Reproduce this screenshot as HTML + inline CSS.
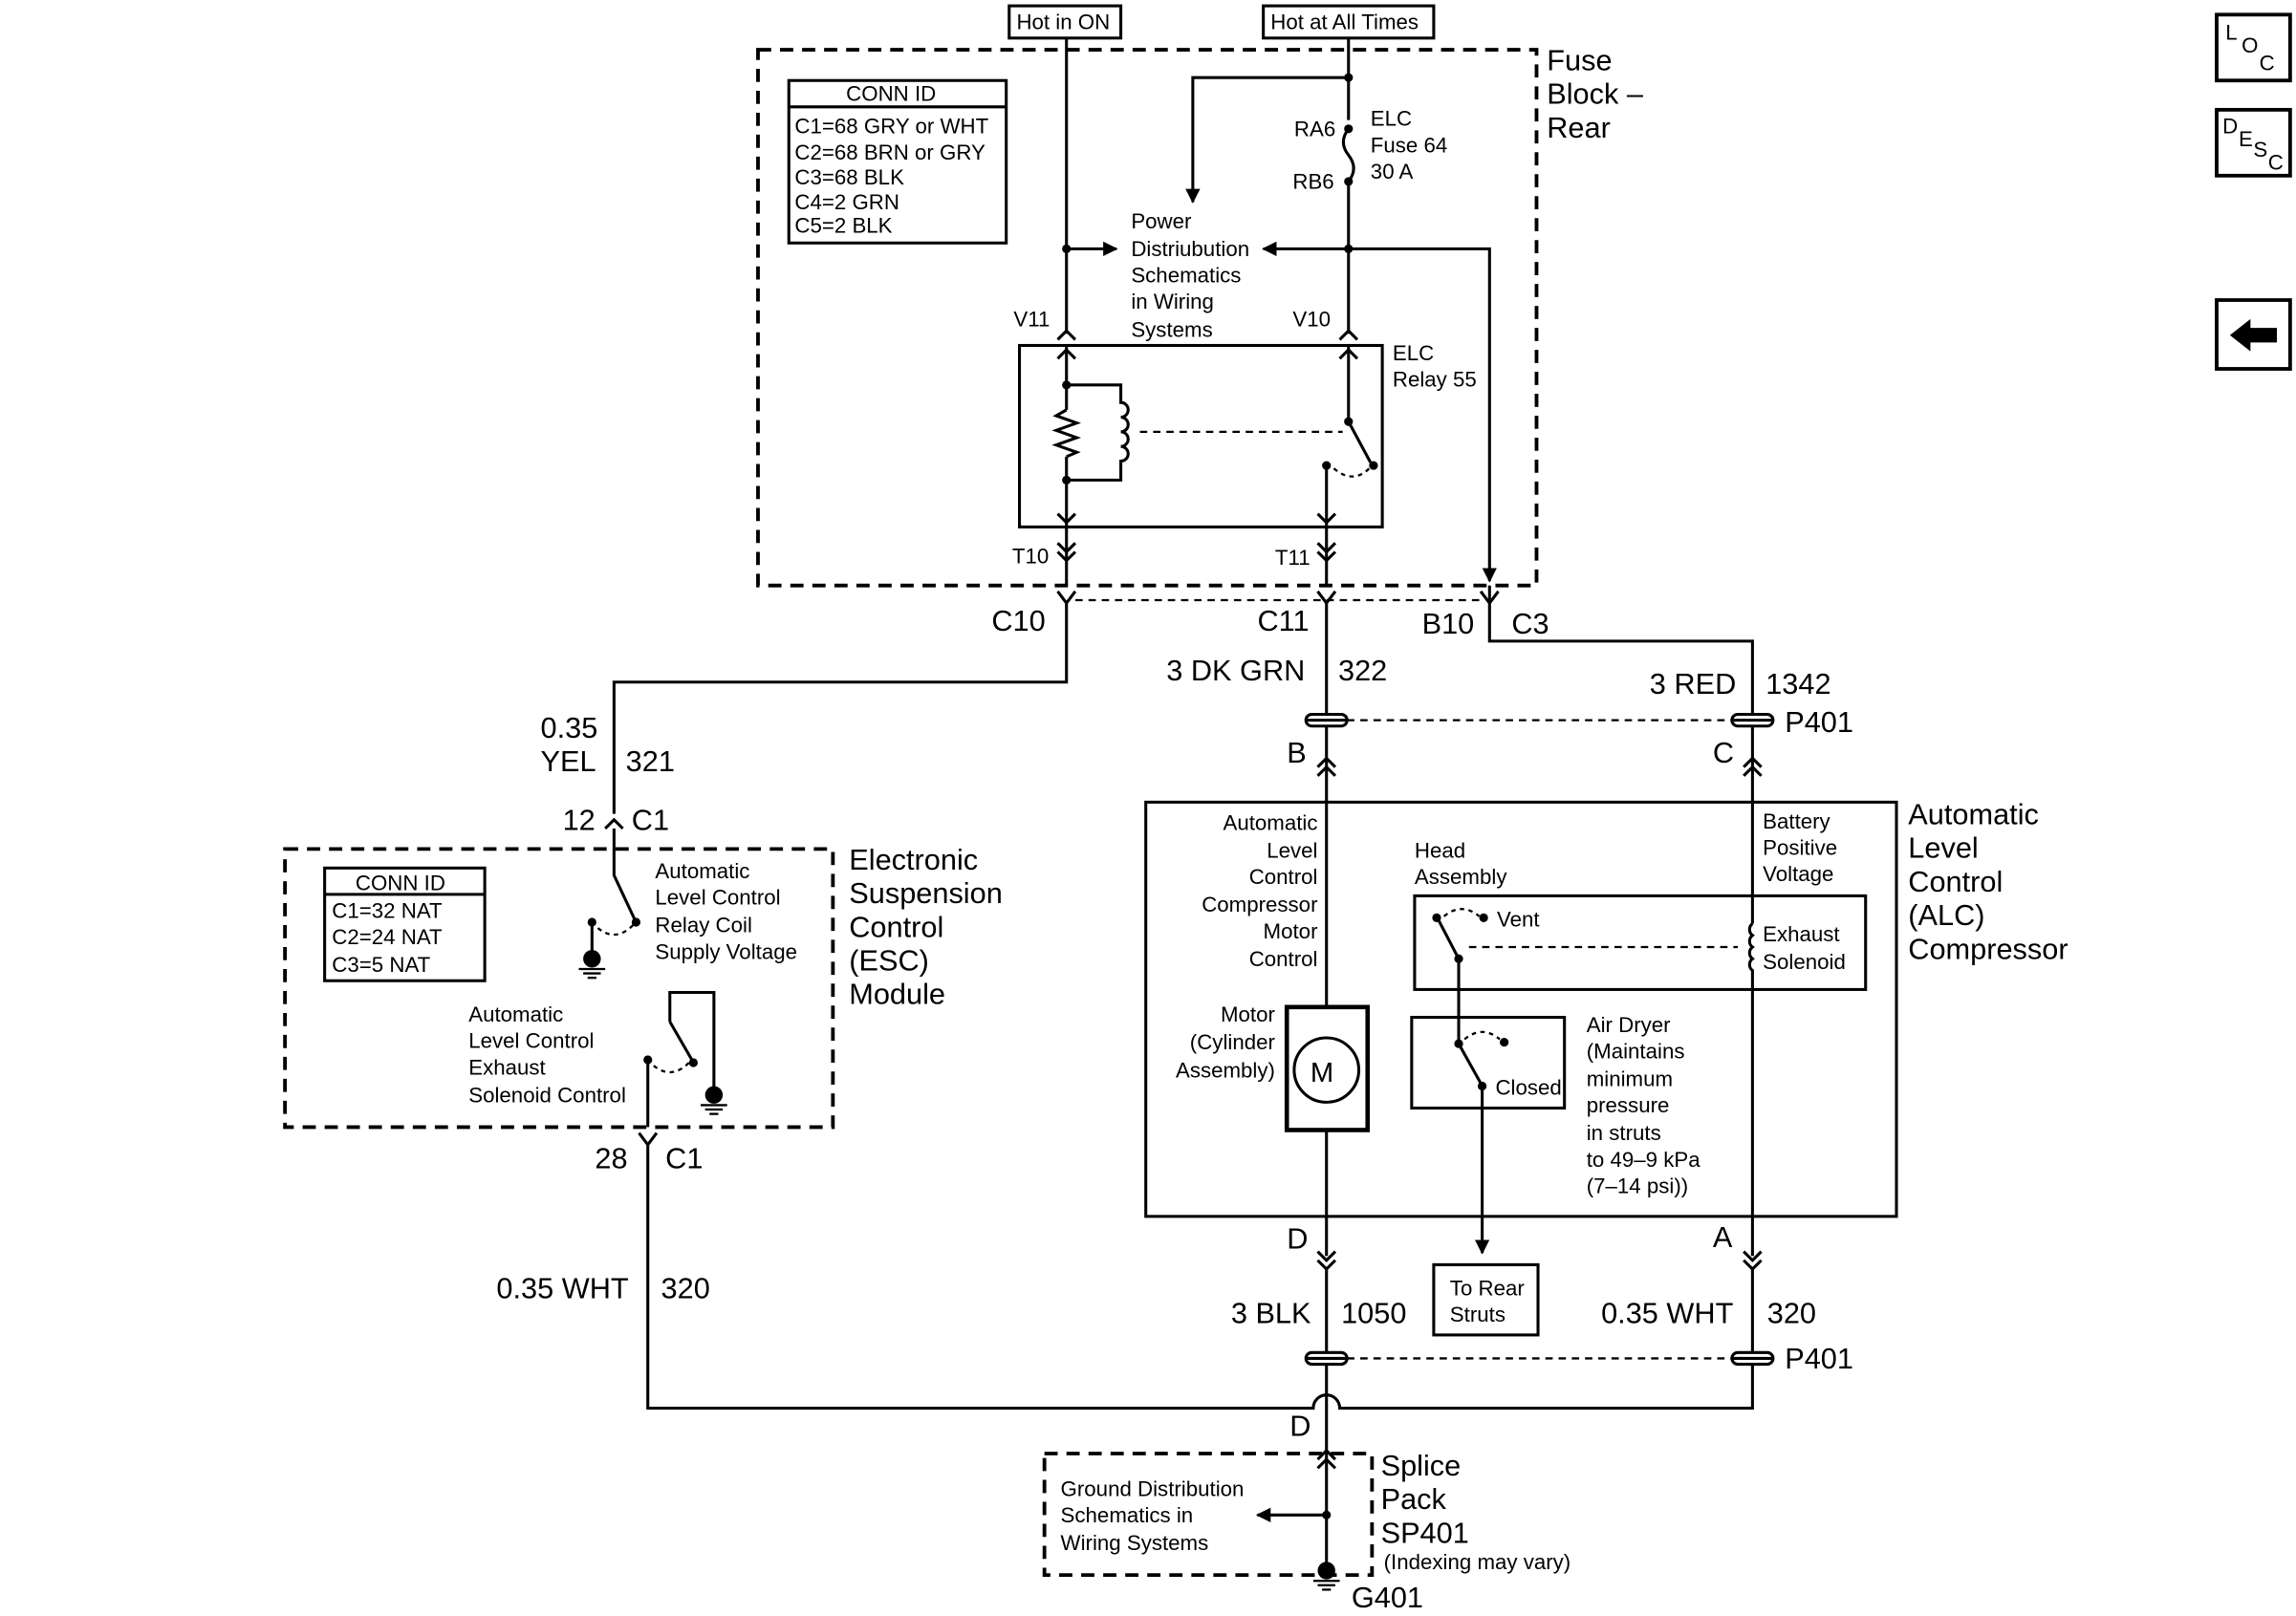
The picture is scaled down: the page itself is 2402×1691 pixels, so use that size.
<!DOCTYPE html>
<html><head><meta charset="utf-8"><style>
html,body{margin:0;padding:0;background:#fff;}
svg{display:block;}
text{font-family:"Liberation Sans",sans-serif;fill:#000;}
.s{font-size:14.5px;}
.b{font-size:20px;}
</style></head><body>
<svg width="2402" height="1691" viewBox="0 0 1563 1104" preserveAspectRatio="none" xmlns="http://www.w3.org/2000/svg">
<defs>
<marker id="ah" markerWidth="10" markerHeight="10" refX="9" refY="5" orient="auto" markerUnits="userSpaceOnUse"><path d="M0,0 L10,5 L0,10 z" fill="#000"/></marker>
</defs>
<g stroke="#000" stroke-width="2" fill="none">
<!-- top boxes -->
<rect x="687" y="4" width="76" height="22"/>
<rect x="860" y="4" width="116" height="22"/>
<!-- fuse block dashed -->
<rect x="516" y="34" width="530" height="366" stroke-dasharray="9,6" stroke-width="2.5"/>
<rect x="537" y="55" width="148" height="111"/>
<line x1="537" y1="73" x2="685" y2="73"/>
<!-- V11 -->
<line x1="726" y1="26" x2="726" y2="228"/>
<line x1="726" y1="170" x2="760" y2="170" marker-end="url(#ah)"/>
<!-- V10 -->
<line x1="918" y1="26" x2="918" y2="82"/>
<path d="M918,53 H812 V138" marker-end="url(#ah)"/>
<path d="M918,88 q-7,9 0,18 q7,9 0,18"/>
<line x1="918" y1="124" x2="918" y2="228"/>
<line x1="918" y1="170" x2="860" y2="170" marker-end="url(#ah)"/>
<path d="M918,170 H1014 V397" marker-end="url(#ah)"/>
<!-- top chevrons V11 V10 -->
<path d="M720,232 L726,226 L732,232"/>
<path d="M912,232 L918,226 L924,232"/>
<!-- relay -->
<rect x="694" y="236" width="247" height="124"/>
<line x1="726" y1="236" x2="726" y2="280"/>
<path d="M726,280 l-7,4 l14,5 l-14,5 l14,5 l-14,5 l14,5 l-7,3"/>
<line x1="726" y1="312" x2="726" y2="360"/>
<path d="M720,245 L726,239 L732,245"/><path d="M720,351 L726,357 L732,351"/>
<path d="M726,263 H763 V275 a5,5 0 0 1 0,10 a5,5 0 0 1 0,10 a5,5 0 0 1 0,10 a5,5 0 0 1 0,10 V328 H726"/>
<line x1="776" y1="295" x2="914" y2="295" stroke-dasharray="5,4" stroke-width="1.5"/>
<line x1="918" y1="236" x2="918" y2="288"/>
<path d="M912,245 L918,239 L924,245"/>
<line x1="918" y1="288" x2="933" y2="316"/>
<line x1="903" y1="318" x2="903" y2="360"/>
<path d="M897,351 L903,357 L909,351"/>
<path d="M908,320 q14,12 26,-2" stroke-dasharray="3,3" stroke-width="1.5"/>
<!-- T10 T11 -->
<line x1="726" y1="360" x2="726" y2="400"/>
<path d="M720,371 L726,377 L732,371 M720,377 L726,383 L732,377"/>
<line x1="903" y1="360" x2="903" y2="400"/>
<path d="M897,371 L903,377 L909,371 M897,377 L903,383 L909,377"/>
<!-- C10 C11 C3 -->
<path d="M720,404 L726,412 L732,404 M726,412 V466 H418 V556"/>
<path d="M897,404 L903,412 L909,404 M903,412 V488"/>
<path d="M1008,404 L1014,412 L1020,404 M1014,412 V438 H1193 V488"/>
<line x1="732" y1="410" x2="1008" y2="410" stroke-dasharray="5,4" stroke-width="1.5"/>
<line x1="1014" y1="400" x2="1014" y2="412"/>
<!-- P401 upper -->
<rect x="889" y="488" width="28" height="8" rx="4"/>
<line x1="889" y1="492" x2="917" y2="492"/>
<rect x="1179" y="488" width="28" height="8" rx="4"/>
<line x1="1179" y1="492" x2="1207" y2="492"/>
<line x1="917" y1="492" x2="1179" y2="492" stroke-dasharray="5,4" stroke-width="1.5"/>
<path d="M897,524 L903,518 L909,524 M897,530 L903,524 L909,530 M903,496 V688"/>
<path d="M1187,524 L1193,518 L1199,524 M1187,530 L1193,524 L1199,530 M1193,496 V631"/>
<!-- ESC -->
<rect x="194" y="580" width="373" height="190" stroke-dasharray="9,6" stroke-width="2.5"/>
<rect x="221" y="593" width="109" height="77"/>
<line x1="221" y1="611" x2="330" y2="611"/>
<path d="M412,566 L418,560 L424,566 M418,566 V598 L432,628"/>
<path d="M403,630 V652"/>
<path d="M407,634 q12,10 24,-2" stroke-dasharray="3,3" stroke-width="1.5"/>
<path d="M456,698 V678 H486 V745"/>
<line x1="456" y1="698" x2="471" y2="724"/>
<path d="M441,724 V770"/>
<path d="M445,728 q12,10 24,-2" stroke-dasharray="3,3" stroke-width="1.5"/>
<path d="M435,774 L441,782 L447,774 M441,782 V962 H894 a9,9 0 0 1 18,0 H1193 V932"/>
<!-- ALC box -->
<rect x="780" y="548" width="511" height="283"/>
<rect x="876" y="688" width="55" height="84" stroke-width="3"/>
<circle cx="903" cy="731" r="22"/>
<path d="M903,772 V858 M897,855 L903,861 L909,855 M897,861 L903,867 L909,861 M903,867 V924"/>
<rect x="963" y="612" width="307" height="64"/>
<path d="M993,655 L979,628"/>
<path d="M983,626 q12,-10 24,0" stroke-dasharray="3,3" stroke-width="1.5"/>
<line x1="1000" y1="647" x2="1183" y2="647" stroke-dasharray="5,4" stroke-width="1.5"/>
<path d="M1193,631 a5,5 0 0 0 0,8 a5,5 0 0 0 0,8 a5,5 0 0 0 0,8 a5,5 0 0 0 0,8 V858 M1187,855 L1193,861 L1199,855 M1187,861 L1193,867 L1199,861 M1193,867 V924"/>
<rect x="961" y="695" width="104" height="62"/>
<path d="M993,655 V713"/>
<path d="M993,713 L1008,740"/>
<path d="M997,710 q12,-10 24,0" stroke-dasharray="3,3" stroke-width="1.5"/>
<path d="M1009,742 V856" marker-end="url(#ah)"/>
<rect x="976" y="864" width="71" height="48"/>
<!-- lower P401 -->
<rect x="889" y="924" width="28" height="8" rx="4"/>
<line x1="889" y1="928" x2="917" y2="928"/>
<rect x="1179" y="924" width="28" height="8" rx="4"/>
<line x1="1179" y1="928" x2="1207" y2="928"/>
<line x1="917" y1="928" x2="1179" y2="928" stroke-dasharray="5,4" stroke-width="1.5"/>
<path d="M903,932 V962 M903,962 V1068"/>
<path d="M897,997 L903,991 L909,997 M897,1003 L903,997 L909,1003"/>
<rect x="711" y="993" width="223" height="83" stroke-dasharray="9,6" stroke-width="2.5"/>
<line x1="903" y1="1035" x2="856" y2="1035" marker-end="url(#ah)"/>
<!-- right icons -->
<rect x="1509" y="10" width="50" height="45" stroke-width="2.5"/>
<rect x="1509" y="75" width="50" height="45" stroke-width="2.5"/>
<rect x="1509" y="205" width="50" height="47" stroke-width="2.5"/>
</g>
<g fill="#000">
<circle cx="726" cy="170" r="3"/><circle cx="918" cy="53" r="3"/><circle cx="918" cy="88" r="3"/><circle cx="918" cy="124" r="3"/><circle cx="918" cy="170" r="3"/>
<circle cx="726" cy="263" r="3"/><circle cx="726" cy="328" r="3"/><circle cx="918" cy="288" r="3"/><circle cx="935" cy="318" r="3"/><circle cx="903" cy="318" r="3"/>
<circle cx="433" cy="630" r="3"/><circle cx="403" cy="630" r="3"/><circle cx="472" cy="726" r="3"/><circle cx="441" cy="724" r="3"/>
<circle cx="978" cy="627" r="3"/><circle cx="1010" cy="627" r="3"/><circle cx="993" cy="655" r="3"/><circle cx="993" cy="713" r="3"/><circle cx="1024" cy="712" r="3"/><circle cx="1009" cy="742" r="3"/>
<circle cx="903" cy="1035" r="3"/>
<circle cx="403" cy="655" r="6"/><circle cx="486" cy="748" r="6"/><circle cx="903" cy="1073" r="6"/>
<path d="M1518,229 L1532,218 V224 H1550 V234 H1532 V240 Z"/>
</g>
<g stroke="#000" stroke-width="1.5">
<line x1="394" y1="662" x2="412" y2="662"/><line x1="397" y1="665" x2="409" y2="665"/><line x1="400" y1="668" x2="406" y2="668"/>
<line x1="477" y1="755" x2="495" y2="755"/><line x1="480" y1="758" x2="492" y2="758"/><line x1="483" y1="761" x2="489" y2="761"/>
<line x1="894" y1="1080" x2="912" y2="1080"/><line x1="897" y1="1083" x2="909" y2="1083"/><line x1="900" y1="1086" x2="906" y2="1086"/>
</g>
<g class="s">
<text x="692" y="20">Hot in ON</text>
<text x="865" y="20">Hot at All Times</text>
<text x="576" y="69">CONN ID</text>
<text x="541" y="91">C1=68 GRY or WHT</text>
<text x="541" y="109">C2=68 BRN or GRY</text>
<text x="541" y="126">C3=68 BLK</text>
<text x="541" y="143">C4=2 GRN</text>
<text x="541" y="159">C5=2 BLK</text>
<text x="933" y="86">ELC</text><text x="933" y="104">Fuse 64</text><text x="933" y="122">30 A</text>
<text x="881" y="93">RA6</text><text x="880" y="129">RB6</text>
<text x="770" y="156">Power</text><text x="770" y="175">Distriubution</text><text x="770" y="193">Schematics</text><text x="770" y="211">in Wiring</text><text x="770" y="230">Systems</text>
<text x="690" y="223">V11</text><text x="880" y="223">V10</text>
<text x="948" y="246">ELC</text><text x="948" y="264">Relay 55</text>
<text x="689" y="385">T10</text><text x="868" y="386">T11</text>
<text x="242" y="608">CONN ID</text>
<text x="226" y="627">C1=32 NAT</text><text x="226" y="645">C2=24 NAT</text><text x="226" y="664">C3=5 NAT</text>
<text x="446" y="600">Automatic</text><text x="446" y="618">Level Control</text><text x="446" y="637">Relay Coil</text><text x="446" y="655">Supply Voltage</text>
<text x="319" y="698">Automatic</text><text x="319" y="716">Level Control</text><text x="319" y="734">Exhaust</text><text x="319" y="753">Solenoid Control</text>
<g text-anchor="end">
<text x="897" y="567">Automatic</text><text x="897" y="586">Level</text><text x="897" y="604">Control</text><text x="897" y="623">Compressor</text><text x="897" y="641">Motor</text><text x="897" y="660">Control</text>
<text x="868" y="698">Motor</text><text x="868" y="717">(Cylinder</text><text x="868" y="736">Assembly)</text>
</g>
<text x="963" y="586">Head</text><text x="963" y="604">Assembly</text>
<text x="1019" y="633">Vent</text>
<text x="1200" y="566">Battery</text><text x="1200" y="584">Positive</text><text x="1200" y="602">Voltage</text>
<text x="1200" y="643">Exhaust</text><text x="1200" y="662">Solenoid</text>
<text x="1018" y="748">Closed</text>
<text x="1080" y="705">Air Dryer</text><text x="1080" y="723">(Maintains</text><text x="1080" y="742">minimum</text><text x="1080" y="760">pressure</text><text x="1080" y="779">in struts</text><text x="1080" y="797">to 49–9 kPa</text><text x="1080" y="815">(7–14 psi))</text>
<text x="987" y="885">To Rear</text><text x="987" y="903">Struts</text>
<text x="722" y="1022">Ground Distribution</text><text x="722" y="1040">Schematics in</text><text x="722" y="1059">Wiring Systems</text>
<text x="942" y="1072">(Indexing may vary)</text>
</g>
<g class="b">
<text x="1053" y="48">Fuse</text><text x="1053" y="71">Block –</text><text x="1053" y="94">Rear</text>
<text x="675" y="431">C10</text><text x="856" y="431">C11</text><text x="968" y="433">B10</text><text x="1029" y="433">C3</text>
<text x="794" y="465">3 DK GRN</text><text x="911" y="465">322</text>
<text x="1123" y="474">3 RED</text><text x="1202" y="474">1342</text>
<text x="1215" y="500">P401</text>
<text x="876" y="521">B</text><text x="1166" y="521">C</text>
<text x="368" y="504">0.35</text><text x="368" y="527">YEL</text><text x="426" y="527">321</text>
<text x="383" y="567">12</text><text x="430" y="567">C1</text>
<text x="578" y="594">Electronic</text><text x="578" y="617">Suspension</text><text x="578" y="640">Control</text><text x="578" y="663">(ESC)</text><text x="578" y="686">Module</text>
<text x="1299" y="563">Automatic</text><text x="1299" y="586">Level</text><text x="1299" y="609">Control</text><text x="1299" y="632">(ALC)</text><text x="1299" y="655">Compressor</text>
<text x="892" y="739" font-size="19">M</text>
<text x="405" y="798">28</text><text x="453" y="798">C1</text>
<text x="338" y="887">0.35 WHT</text><text x="450" y="887">320</text>
<text x="876" y="853">D</text><text x="1166" y="852">A</text>
<text x="838" y="904">3 BLK</text><text x="913" y="904">1050</text>
<text x="1090" y="904">0.35 WHT</text><text x="1203" y="904">320</text>
<text x="1215" y="935">P401</text>
<text x="878" y="981">D</text>
<text x="940" y="1008">Splice</text><text x="940" y="1031">Pack</text><text x="940" y="1054">SP401</text>
<text x="920" y="1098">G401</text>
</g>
<g class="s">
<text x="1515" y="27">L</text><text x="1526" y="36">O</text><text x="1538" y="48">C</text>
<text x="1513" y="91">D</text><text x="1524" y="100">E</text><text x="1534" y="107">S</text><text x="1544" y="116">C</text>
</g>
</svg>
</body></html>
